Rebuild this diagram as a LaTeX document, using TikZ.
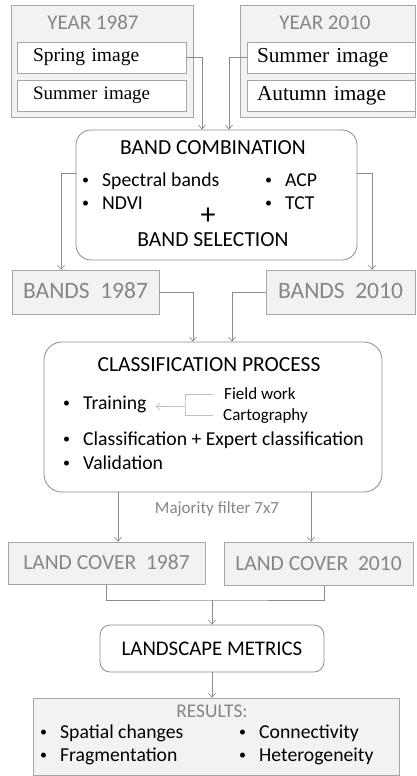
\documentclass[tikz,border=0pt]{standalone}
\usepackage{fontspec}
\setmainfont{Carlito}
\newfontfamily\serifimg{Liberation Serif}
\usetikzlibrary{arrows.meta}
\definecolor{boxfill}{HTML}{F2F2F2}
\definecolor{edgegray}{HTML}{A6A6A6}
\definecolor{wiregray}{HTML}{8C8C8C}
\definecolor{greytext}{HTML}{868686}
\definecolor{litegray}{HTML}{BFBFBF}
\def\bul#1{\makebox[20pt][l]{\raisebox{1.6pt}{\fs{14}\textbullet}}#1}
\def\fs#1{\fontsize{#1}{#1}\selectfont}

\begin{document}
\begin{tikzpicture}[x=1pt,y=-1pt,
  greybox/.style={draw=edgegray,fill=boxfill,inner sep=0,text=greytext,font=\fs{21.5},text height=13.5pt,text depth=0pt},
  imgbox/.style={draw=edgegray,fill=white,minimum height=31pt,align=left,inner ysep=0,font=\serifimg\fs{19.5}},
  roundbox/.style={draw=wiregray,fill=white,rounded corners=15pt,line width=0.8pt},
  title/.style={inner sep=0,font=\fs{21.5},text height=13.5pt,text depth=0pt},
  item/.style={inner sep=0,anchor=west,font=\fs{19.7},text height=12.7pt,text depth=0pt},
  note/.style={inner sep=0,font=\fs{17},text height=11pt,text depth=0pt},
  wire/.style={draw=wiregray,line width=0.7pt},
  litewire/.style={draw=litegray,line width=0.7pt},
  arr/.style={wire,-{Straight Barb[length=4pt,width=7pt]}},
  litearr/.style={litewire,-{Straight Barb[length=4pt,width=7pt]}}]
\useasboundingbox (0,0) rectangle (416,776);

% input images
\node[greybox,minimum width=182pt,minimum height=112pt] (y87) at (102,61) {};
\node[greybox,minimum width=175pt,minimum height=112pt] (y10) at (327.5,61) {};
\node[title,text=greytext,font=\fs{21}] (t87) at (93,23) {YEAR 1987};
\node[title,text=greytext,font=\fs{21}] (t10) at (325,23) {YEAR 2010};
\node[imgbox,text width=137pt,inner xsep=16pt] (spr87) at (101.5,57.5) {Spring image};
\node[imgbox,text width=137pt,inner xsep=16pt,font=\serifimg\fs{19}] (sum87) at (101.5,95.5) {Summer image};
\node[imgbox,text width=148pt,inner xsep=10pt,font=\serifimg\fs{21.3}] (sum10) at (331,57.5) {Summer image};
\node[imgbox,text width=148pt,inner xsep=10pt,font=\serifimg\fs{21.3}] (aut10) at (331,95.5) {Autumn image};

% band combination
\node[roundbox,minimum width=281pt,minimum height=130pt] (combo) at (216.5,195) {};
\node[title] (combotitle) at (213,148) {BAND COMBINATION};
\node[item] (spec) at (82,180) {\bul{Spectral bands}};
\node[item] (ndvi) at (82,203) {\bul{NDVI}};
\node[item] (acp) at (265,180) {\bul{ACP}};
\node[item] (tct) at (265,203) {\bul{TCT}};
\node[title,font=\fs{30},text height=15pt] (plus) at (208,217) {+};
\node[title] (bandsel) at (213,240) {BAND SELECTION};
\draw[arr] (spr87.east) -| ([xshift=-14.5pt]combo.north);
\draw[arr] (sum10.west) -| ([xshift=12.5pt]combo.north);

% bands
\node[greybox,minimum width=147pt,minimum height=44pt,font=\fs{23.5}] (b87) at (85.5,292) {BANDS\ \ 1987};
\node[greybox,minimum width=149pt,minimum height=44pt,font=\fs{23.5}] (b10) at (340.5,292) {BANDS\ \ 2010};
\draw[arr] ([yshift=22pt]combo.west) -| ([xshift=-24.5pt]b87.north);
\draw[arr] ([yshift=22pt]combo.east) -| ([xshift=31.5pt]b10.north);

% classification
\node[roundbox,rounded corners=18pt,minimum width=338pt,minimum height=150pt] (class) at (213,417) {};
\node[title] (classtitle) at (209,365) {CLASSIFICATION PROCESS};
\node[item] (train) at (63,403) {\bul{Training}};
\node[item] (expert) at (63,439) {\bul{Classification + Expert classification}};
\node[item] (valid) at (63,463) {\bul{Validation}};
\node[note,anchor=west] (field) at (224,394) {Field work};
\node[note,anchor=west] (carto) at (223,415) {Cartography};
\coordinate (fork) at (185,406.5);
\draw[litewire] ([xshift=-11pt]field.west) -| (fork) |- ([xshift=-10pt]carto.west);
\draw[litearr,shorten >=9pt] (fork) -- (fork -| train.east);
\draw[arr] (b87.east) -| ([xshift=-20pt]class.north);
\draw[arr] (b10.west) -| ([xshift=19pt]class.north);

% land cover
\node[note,text=greytext] (filter) at (217,508) {Majority filter 7x7};
\node[greybox,minimum width=197pt,minimum height=42pt] (lc87) at (106.5,563) {LAND COVER\ \ 1987};
\node[greybox,minimum width=189pt,minimum height=43pt] (lc10) at (318.5,563.5) {LAND COVER\ \ 2010};
\draw[arr] ([xshift=-95pt]class.south) -- ([xshift=-95pt]class.south |- lc87.north);
\draw[arr] ([xshift=98pt]class.south) -- ([xshift=98pt]class.south |- lc10.north);

% metrics and results
\node[roundbox,rounded corners=10pt,minimum width=224pt,minimum height=47pt,inner sep=0,font=\fs{20.8},text height=13.5pt,text depth=0pt] (metrics) at (212,648.5) {LANDSCAPE METRICS};
\coordinate (join) at (212,600);
\draw[wire] (lc87.south) |- (join) -| ([xshift=5.5pt]lc10.south);
\draw[arr] (join) -- (metrics.north);
\node[greybox,minimum width=366pt,minimum height=77.5pt] (results) at (216,736.75) {};
\draw[arr] (metrics.south) -- (metrics.south |- results.north);
\node[title,text=greytext,font=\fs{19.4}] (restitle) at (212,711) {RESULTS:};
\node[item] (spatial) at (40,732) {\bul{Spatial changes}};
\node[item] (frag) at (40,755) {\bul{Fragmentation}};
\node[item] (conn) at (239,732) {\bul{Connectivity}};
\node[item] (hetero) at (239,755) {\bul{Heterogeneity}};
\end{tikzpicture}
\end{document}
